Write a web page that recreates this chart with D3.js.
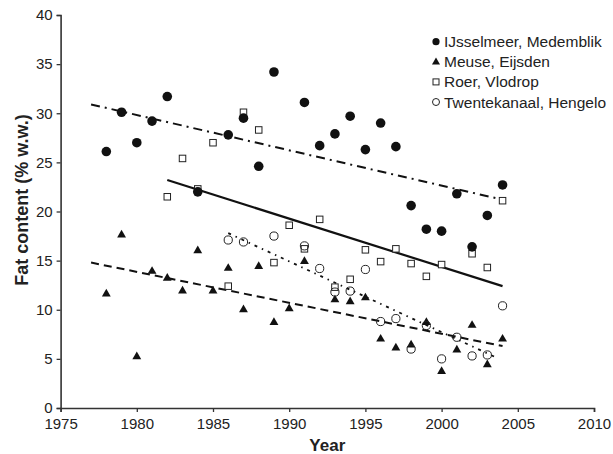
<!DOCTYPE html>
<html>
<head>
<meta charset="utf-8">
<script src="https://cdn.jsdelivr.net/npm/d3@7"></script>
<style>
  body { margin: 0; background: #fff; }
  svg { font-family: "Liberation Sans", Arial, sans-serif; }
</style>
</head>
<body>
<div id="chart"></div>
<script>
// --- data ---
const ijsselYears  = [1978, 1979, 1980, 1981, 1982, 1984, 1986, 1987, 1988, 1989, 1991, 1992, 1993, 1994, 1995, 1996, 1997, 1998, 1999, 2000, 2001, 2002, 2003, 2004];
const ijsselValues = [26.1, 30.1, 27.0, 29.2, 31.7, 22.0, 27.8, 29.5, 24.6, 34.2, 31.1, 26.7, 27.9, 29.7, 26.3, 29.0, 26.6, 20.6, 18.2, 18.0, 21.8, 16.4, 19.6, 22.7];

const meuseYears  = [1978, 1979, 1980, 1981, 1982, 1983, 1984, 1985, 1986, 1987, 1988, 1989, 1990, 1991, 1993, 1994, 1995, 1996, 1997, 1998, 1999, 2000, 2001, 2002, 2003, 2004];
const meuseValues = [11.7, 17.7, 5.3, 14.0, 13.3, 12.0, 16.1, 12.0, 14.3, 10.1, 14.5, 8.8, 10.2, 15.0, 11.1, 10.9, 11.3, 7.1, 6.2, 6.5, 8.8, 3.8, 6.0, 8.5, 4.5, 7.1];

const roerYears  = [1982, 1983, 1984, 1985, 1986, 1987, 1988, 1989, 1990, 1991, 1992, 1993, 1994, 1995, 1996, 1997, 1998, 1999, 2000, 2002, 2003, 2004];
const roerValues = [21.5, 25.4, 22.3, 27.0, 12.4, 30.1, 28.3, 14.8, 18.6, 16.2, 19.2, 12.3, 13.1, 16.1, 14.9, 16.2, 14.7, 13.4, 14.6, 15.7, 14.3, 21.1];

const twenteYears  = [1986, 1987, 1989, 1991, 1992, 1993, 1994, 1995, 1996, 1997, 1998, 1999, 2000, 2001, 2002, 2003, 2004];
const twenteValues = [17.1, 16.9, 17.5, 16.5, 14.2, 11.8, 11.9, 14.1, 8.8, 9.1, 6.0, 8.4, 5.0, 7.2, 5.3, 5.4, 10.4];

// trend lines: [start year, start value, end year, end value]
const ijsselTrend = [1977, 30.9, 2004, 21.2];
const meuseTrend  = [1977, 14.8, 2004, 6.3];
const roerTrend   = [1982, 23.2, 2004, 12.4];
const twenteTrend = [1986, 17.8, 2003.5, 5.2];

const seriesNames = ["IJsselmeer, Medemblik", "Meuse, Eijsden", "Roer, Vlodrop", "Twentekanaal, Hengelo"];
const xTicks = [1975, 1980, 1985, 1990, 1995, 2000, 2005, 2010];
const yTicks = [0, 5, 10, 15, 20, 25, 30, 35, 40];

// --- chart ---
const width = 613, height = 454;
const svg = d3.select("#chart").append("svg")
    .attr("width", width).attr("height", height);

const x = d3.scaleLinear().domain([1975, 2010]).range([60.6, 594]);
const y = d3.scaleLinear().domain([0, 40]).range([408, 15]);

const axisColor = "#333";

// axes
const xAxis = svg.append("g")
    .attr("transform", `translate(0,${y(0)})`)
    .call(d3.axisBottom(x).tickValues(xTicks).tickFormat(d3.format("d")).tickSize(4).tickPadding(6));
const yAxis = svg.append("g")
    .attr("transform", `translate(${x(1975)},0)`)
    .call(d3.axisLeft(y).tickValues(yTicks).tickSize(4).tickPadding(4));

[xAxis, yAxis].forEach(g => {
  g.select(".domain").attr("stroke", axisColor).attr("stroke-width", 1.6);
  g.selectAll(".tick line").attr("stroke", axisColor).attr("stroke-width", 1.3);
  g.selectAll(".tick text").attr("fill", "#222").style("font-size", "15px")
    .style("font-family", "Liberation Sans, Arial, sans-serif");
});

svg.append("text")
    .attr("x", (x(1975) + x(2010)) / 2).attr("y", 450.5)
    .attr("text-anchor", "middle")
    .style("font-size", "17px").style("font-weight", "bold").attr("fill", "#222")
    .text("Year");

svg.append("text")
    .attr("transform", "translate(28,200) rotate(-90)")
    .attr("text-anchor", "middle")
    .style("font-size", "18px").style("font-weight", "bold").attr("fill", "#222")
    .text("Fat content (% w.w.)");

// trend lines
function trend(t, dash, w) {
  svg.append("line")
      .attr("x1", x(t[0])).attr("y1", y(t[1]))
      .attr("x2", x(t[2])).attr("y2", y(t[3]))
      .attr("stroke", "#111").attr("stroke-width", w)
      .attr("stroke-dasharray", dash);
}
trend(roerTrend, null, 2.2);
trend(ijsselTrend, "9,5,2,5", 2);
trend(meuseTrend, "8,5", 2);
trend(twenteTrend, "3,5,1.5,5", 1.8);

// markers
const tri = d3.symbol().type(d3.symbolTriangle).size(34);
const triSmall = d3.symbol().type(d3.symbolTriangle).size(28);

function drawSquares(g, px, py, s) {
  g.append("rect").attr("x", px - s / 2).attr("y", py - s / 2)
    .attr("width", s).attr("height", s)
    .attr("fill", "#fff").attr("stroke", "#222").attr("stroke-width", 1);
}
function drawOpenCircle(g, px, py, r) {
  g.append("circle").attr("cx", px).attr("cy", py).attr("r", r)
    .attr("fill", "none").attr("stroke", "#222").attr("stroke-width", 1);
}
function drawDot(g, px, py, r) {
  g.append("circle").attr("cx", px).attr("cy", py).attr("r", r).attr("fill", "#111");
}
function drawTri(g, px, py, sym) {
  g.append("path").attr("d", sym).attr("transform", `translate(${px},${py + 0.8})`).attr("fill", "#111");
}

const marks = svg.append("g");
meuseYears.forEach((yr, i) => drawTri(marks, x(yr), y(meuseValues[i]), tri()));
roerYears.forEach((yr, i) => drawSquares(marks, x(yr), y(roerValues[i]), 6.5));
ijsselYears.forEach((yr, i) => drawDot(marks, x(yr), y(ijsselValues[i]), 4.8));
twenteYears.forEach((yr, i) => drawOpenCircle(marks, x(yr), y(twenteValues[i]), 4.1));

// legend
const legend = svg.append("g");
const lx = 436, ly0 = 41.7, lstep = 20.1;
seriesNames.forEach((name, i) => {
  const cy = ly0 + i * lstep;
  if (i === 0) drawDot(legend, lx, cy, 3.6);
  if (i === 1) drawTri(legend, lx, cy - 0.5, triSmall());
  if (i === 2) drawSquares(legend, lx, cy, 6);
  if (i === 3) drawOpenCircle(legend, lx, cy, 3.5);
  legend.append("text")
      .attr("x", lx + 8).attr("y", cy + 5.5)
      .style("font-size", "15.5px").attr("fill", "#222")
      .text(name);
});
</script>
</body>
</html>
